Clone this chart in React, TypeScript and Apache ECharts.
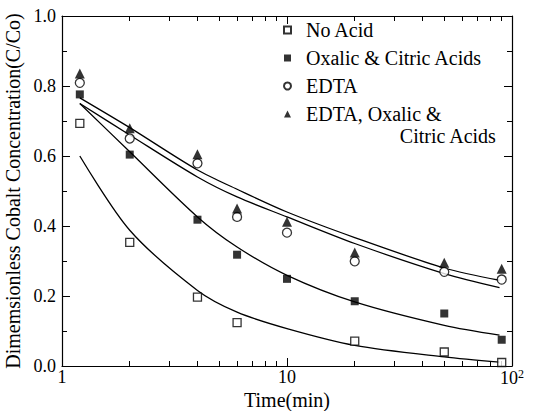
import React, { useEffect, useRef } from "react";
import * as echarts from "echarts";

const times = [1.2, 2, 4, 6, 10, 20, 50, 90];
const noAcid = [0.693, 0.353, 0.197, 0.124, 0.071, 0.04, 0.01];
const noAcidTimes = [1.2, 2, 4, 6, 20, 50, 90];
const oxalic = [0.776, 0.604, 0.418, 0.318, 0.249, 0.185, 0.15, 0.075];
const edta = [0.809, 0.65, 0.579, 0.426, 0.381, 0.299, 0.269, 0.247];
const edtaOxalic = [0.836, 0.679, 0.605, 0.45, 0.412, 0.324, 0.295, 0.278];

const curveTimes = [1.2, 2, 4, 6, 10, 20, 50, 88];
const fitEdtaOxalic = [0.766, 0.681, 0.56, 0.505, 0.44, 0.367, 0.28, 0.245];
const fitEdta = [0.75, 0.66, 0.54, 0.483, 0.426, 0.35, 0.264, 0.224];
const fitOxalic = [0.75, 0.612, 0.426, 0.34, 0.259, 0.183, 0.116, 0.088];
const fitNoAcid = [0.6, 0.388, 0.216, 0.154, 0.107, 0.059, 0.026, 0.011];

const xMajorTicks = [1, 10, 100];
const xMinorTicks = [2, 3, 4, 5, 6, 7, 8, 9, 20, 30, 40, 50, 60, 70, 80, 90];

const seriesNames = ["No Acid", "Oxalic & Citric Acids", "EDTA", "EDTA, Oxalic & Citric Acids"];

const FONT = '"Liberation Serif", "DejaVu Serif", serif';
const FS = 18;
const FS_BIG = 20;

function pairs(xs: number[], ys: number[]) {
  return ys.map((y, i) => [xs[i], y]);
}

export default function App() {
  const ref = useRef<HTMLDivElement>(null);
  useEffect(() => {
    if (!ref.current) return;
    const chart = echarts.init(ref.current, null, { renderer: "svg" });
    const axisLine = { show: true, lineStyle: { color: "#000", width: 1.2 } };
    const txt = { fontFamily: FONT, fontSize: FS, fontWeight: "normal" as const, color: "#000" };
    const txtBig = { ...txt, fontSize: FS_BIG };
    const xBase = {
      type: "log" as const,
      logBase: 10,
      min: 1,
      max: 100,
      splitLine: { show: false },
      axisLine,
    };
    const yBase = {
      type: "value" as const,
      min: 0,
      max: 1,
      interval: 0.2,
      splitLine: { show: false },
      axisLine,
      axisTick: { show: true, inside: true, length: 8, lineStyle: { color: "#000", width: 1 } },
      minorTick: { show: true, splitNumber: 2, length: 5, lineStyle: { color: "#000", width: 1 } },
    };
    const scatterStyle = (symbol: string, filled: boolean, size: number) => ({
      type: "scatter" as const,
      symbol,
      symbolSize: size,
      itemStyle: {
        color: filled ? "#000" : "#fff",
        borderColor: "#000",
        borderWidth: filled ? 0 : 1.3,
      },
      z: 5,
    });
    const lineStyle = (data: number[]) => ({
      type: "line" as const,
      data: pairs(curveTimes, data),
      showSymbol: false,
      smooth: 0.3,
      silent: true,
      lineStyle: { color: "#000", width: 1.3 },
      z: 3,
    });
    chart.setOption({
      animation: false,
      backgroundColor: "#fff",
      grid: { left: 62, right: 30, top: 16, bottom: 45, outerBoundsMode: "none", containLabel: false },
      xAxis: [
        {
          ...xBase,
          position: "bottom",
          name: "Time(min)",
          nameLocation: "middle",
          nameGap: 24,
          nameMoveOverlap: false,
          nameTextStyle: txtBig,
          axisTick: { show: true, inside: true, length: 8, customValues: xMajorTicks, lineStyle: { color: "#000", width: 1 } },
          axisLabel: {
            show: true,
            margin: 2,
            ...txt,
            customValues: xMajorTicks,
            formatter: (v: number) => (v >= 100 ? "10{sup|2}" : String(Math.round(v))),
            rich: { sup: { fontFamily: FONT, fontSize: 12, verticalAlign: "top", padding: [0, 0, 8, 0], color: "#000" } },
          },
        },
        {
          ...xBase,
          position: "bottom",
          axisLine: { show: false },
          axisTick: { show: true, inside: true, length: 5, customValues: xMinorTicks, lineStyle: { color: "#000", width: 1 } },
          axisLabel: { show: false },
        },
        {
          ...xBase,
          position: "top",
          axisTick: { show: true, inside: true, length: 8, customValues: xMajorTicks, lineStyle: { color: "#000", width: 1 } },
          axisLabel: { show: false },
        },
        {
          ...xBase,
          position: "top",
          axisLine: { show: false },
          axisTick: { show: true, inside: true, length: 5, customValues: xMinorTicks, lineStyle: { color: "#000", width: 1 } },
          axisLabel: { show: false },
        },
      ],
      yAxis: [
        {
          ...yBase,
          position: "left",
          name: "Dimemsionless Cobalt Concentration(C/Co)",
          nameLocation: "middle",
          nameGap: 39,
          nameMoveOverlap: false,
          nameTextStyle: txtBig,
          axisLabel: {
            show: true,
            margin: 6,
            ...txt,
            formatter: (v: number) => v.toFixed(1),
          },
        },
        {
          ...yBase,
          position: "right",
          axisLabel: { show: false },
        },
      ],
      legend: {
        orient: "vertical",
        left: 278,
        top: 15,
        itemWidth: 7,
        itemHeight: 7,
        itemGap: 8,
        textStyle: { ...txtBig, padding: [0, 0, 0, 10] },
        data: seriesNames,
        formatter: (name: string) => (name === seriesNames[3] ? "EDTA, Oxalic &" : name),
      },
      graphic: [
        {
          type: "text",
          right: 45,
          top: 126,
          style: { text: "Citric Acids", font: `normal ${FS_BIG}px ${FONT}`, fill: "#000" },
        },
      ],
      series: [
        lineStyle(fitEdtaOxalic),
        lineStyle(fitEdta),
        lineStyle(fitOxalic),
        lineStyle(fitNoAcid),
        { name: seriesNames[0], ...scatterStyle("rect", false, 8), data: pairs(noAcidTimes, noAcid) },
        { name: seriesNames[1], ...scatterStyle("rect", true, 8), data: pairs(times, oxalic) },
        { name: seriesNames[2], ...scatterStyle("circle", false, 9), data: pairs(times, edta) },
        { name: seriesNames[3], ...scatterStyle("triangle", true, 10), data: pairs(times, edtaOxalic) },
      ],
    });
    return () => chart.dispose();
  }, []);
  return <div ref={ref} style={{ width: 542, height: 411, position: "absolute", left: 0, top: 0 }} />;
}
